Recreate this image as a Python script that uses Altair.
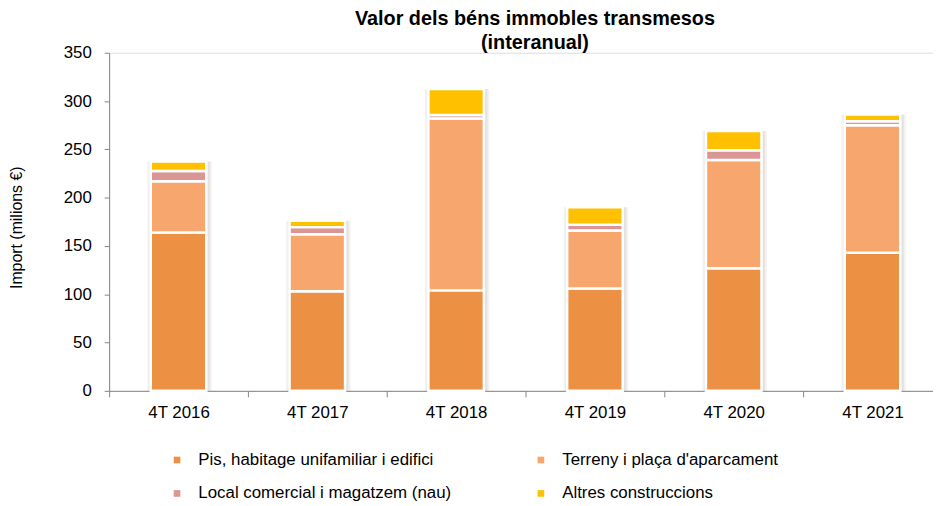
import altair as alt
import pandas as pd

categories = ["4T 2016", "4T 2017", "4T 2018", "4T 2019", "4T 2020", "4T 2021"]
series = [
    "Pis, habitage unifamiliar i edifici",
    "Terreny i plaça d'aparcament",
    "Local comercial i magatzem (nau)",
    "Altres construccions",
]
pis = [164, 103, 104, 106, 127, 143]
terreny = [53, 59, 178, 60, 112, 132]
local = [10.5, 7.5, 3.5, 6, 10, 4]
altres = [10, 6.5, 27, 18, 20, 7]
colors = ["#EC9144", "#F7A66E", "#DA9594", "#FFC000"]
y_ticks = [0, 50, 100, 150, 200, 250, 300, 350]

# legend shows entries column by column: Pis, Local | Terreny, Altres
legend_order = [series[0], series[2], series[1], series[3]]
legend_colors = [colors[0], colors[2], colors[1], colors[3]]

rows = []
for i, c in enumerate(categories):
    for j, vals in enumerate([pis, terreny, local, altres]):
        rows.append({"cat": c, "serie": series[j], "idx": j, "value": vals[i]})
df = pd.DataFrame(rows)

FONT = "Liberation Sans"

x_enc = alt.X(
    "cat:N",
    sort=categories,
    scale=alt.Scale(paddingInner=0, paddingOuter=0, range=[0, 840]),
    axis=alt.Axis(
        title=None, labelAngle=0, tickBand="extent", domainColor="#868686",
        tickColor="#868686", tickSize=6, labelFont=FONT, labelFontSize=17,
        labelColor="#000000", labelPadding=8,
    ),
)
y_axis = alt.Axis(
    values=y_ticks, grid=False, domainColor="#868686", tickColor="#868686",
    tickSize=5, labelFont=FONT, labelFontSize=17, labelColor="#000000",
    labelPadding=13, title="Import (milions €)", titleFont=FONT,
    titleFontSize=16, titleFontWeight="normal", titleColor="#000000",
    titleX=-93, titleY=176, titleAngle=270, titleAlign="center",
    titleBaseline="middle",
)
y_scale = alt.Scale(domain=[0, 350], nice=False)

shadow1 = alt.Chart(df).mark_bar(color="#8c8070", opacity=0.10, width=65, xOffset=1).encode(
    x=x_enc,
    y=alt.Y("sum(value):Q", scale=y_scale, axis=y_axis),
)
shadow2 = alt.Chart(df).mark_bar(color="#8c8070", opacity=0.14, width=61, xOffset=1).encode(
    x=x_enc,
    y=alt.Y("sum(value):Q", scale=y_scale, axis=y_axis),
)

bars = alt.Chart(df).mark_bar(stroke="white", strokeWidth=2.5, width=56).encode(
    x=x_enc,
    y=alt.Y("value:Q", stack="zero", scale=y_scale, axis=y_axis),
    color=alt.Color(
        "serie:N",
        scale=alt.Scale(domain=legend_order, range=legend_colors),
        legend=alt.Legend(
            title=None, orient="none", legendX=60, legendY=402, columns=2,
            columnPadding=81, rowPadding=16, symbolType="square", symbolSize=45,
            symbolStrokeWidth=0, labelFont=FONT, labelFontSize=17,
            labelColor="#000000", labelOffset=13, labelLimit=0, padding=0,
        ),
    ),
    order=alt.Order("idx:Q", sort="ascending"),
)

chart = alt.layer(shadow1, shadow2, bars).properties(
    width=831,
    height=341,
    autosize=alt.AutoSizeParams(type="none"),
    padding={"left": 102, "top": 43, "right": 0, "bottom": 114},
    title=alt.TitleParams(
        text=["Valor dels béns immobles transmesos", "(interanual)"],
        font=FONT, fontSize=20, fontWeight="bold", color="#000000",
        anchor="middle", lineHeight=24, offset=2, dx=14, dy=11,
    ),
).configure_view(fill="#FDF6E7", stroke=None).configure(background="white")

chart.save("out.html", embed_options={"renderer": "svg", "actions": False})
